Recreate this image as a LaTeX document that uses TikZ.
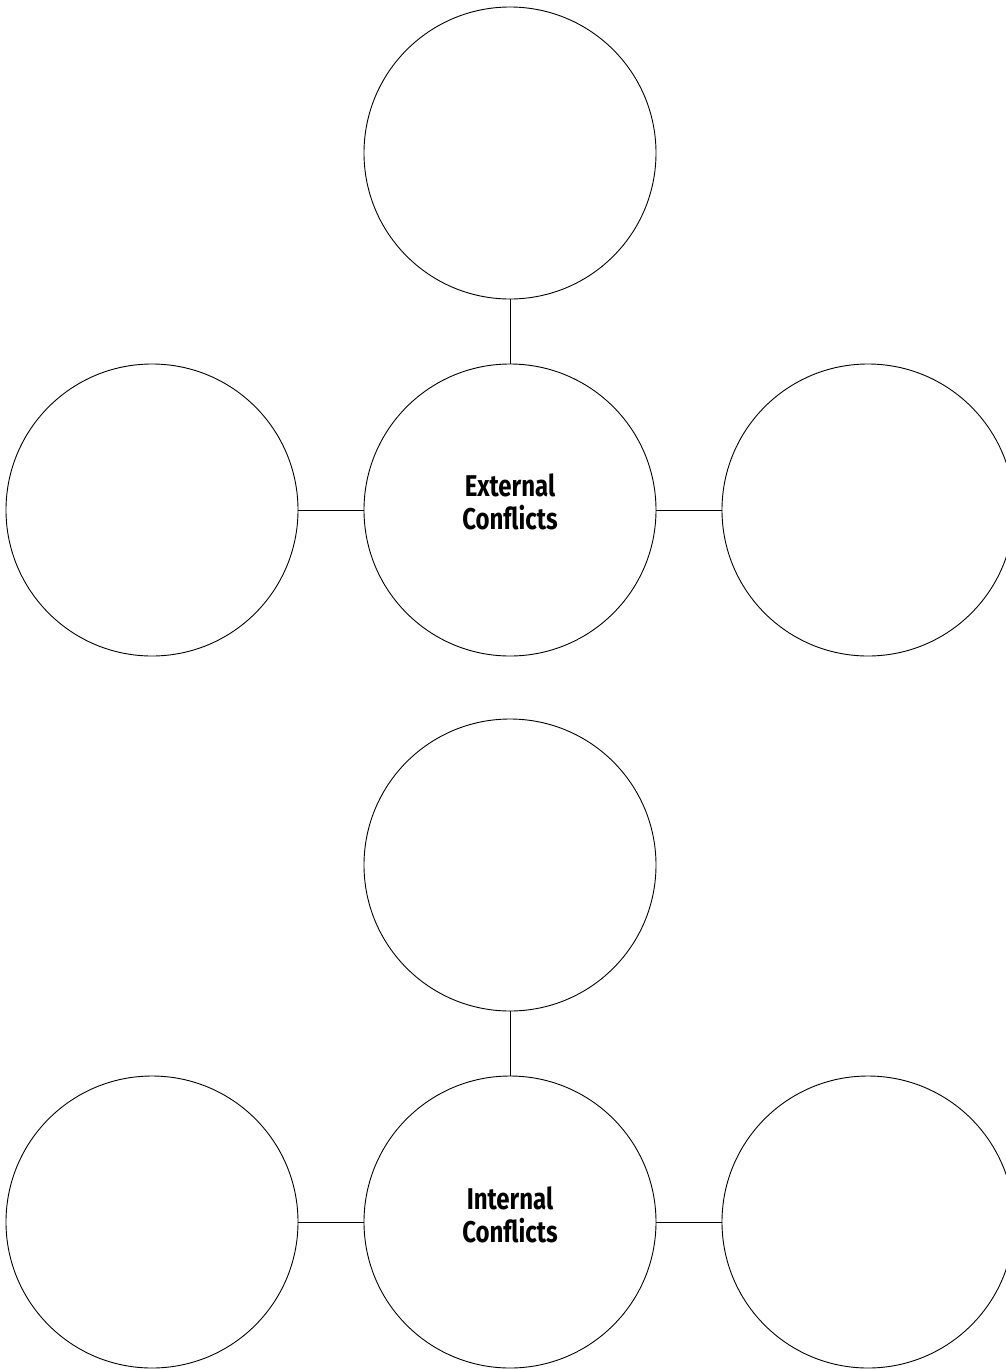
\documentclass[tikz,border=0pt]{standalone}
\usepackage{fontspec}
\setmainfont{Liberation Serif}
\newfontfamily\labelfont[FakeStretch=0.8]{Fira Sans}
\usepackage{tikz}

\begin{document}
\begin{tikzpicture}[x=1pt, y=-1pt,
        bubble/.style={draw, circle, line width=0.9pt, minimum size=292pt, inner sep=0pt},
        link/.style={line width=0.9pt},
        title/.style={font=\labelfont\bfseries\fontsize{30}{33}\selectfont, align=center}]
        \useasboundingbox (0,0) rectangle (1006,1369);
        \clip (0,0) rectangle (1006,1369);

        % External conflicts
        \node[bubble] (exttop) at (510,153) {};
        \node[bubble] (extmid) at (510,510) {};
        \node[bubble] (extleft) at (152,510) {};
        \node[bubble] (extright) at (868,510) {};
        \node[title] at (510,502) {External\\Conflicts};

        \draw[link] (exttop) -- (extmid);
        \draw[link] (extleft) -- (extmid);
        \draw[link] (extmid) -- (extright);

        % Internal conflicts
        \node[bubble] (inttop) at (510,865) {};
        \node[bubble] (intmid) at (510,1222) {};
        \node[bubble] (intleft) at (152,1222) {};
        \node[bubble] (intright) at (868,1222) {};
        \node[title] at (510,1215) {Internal\\Conflicts};

        \draw[link] (inttop) -- (intmid);
        \draw[link] (intleft) -- (intmid);
        \draw[link] (intmid) -- (intright);
    \end{tikzpicture}
\end{document}
